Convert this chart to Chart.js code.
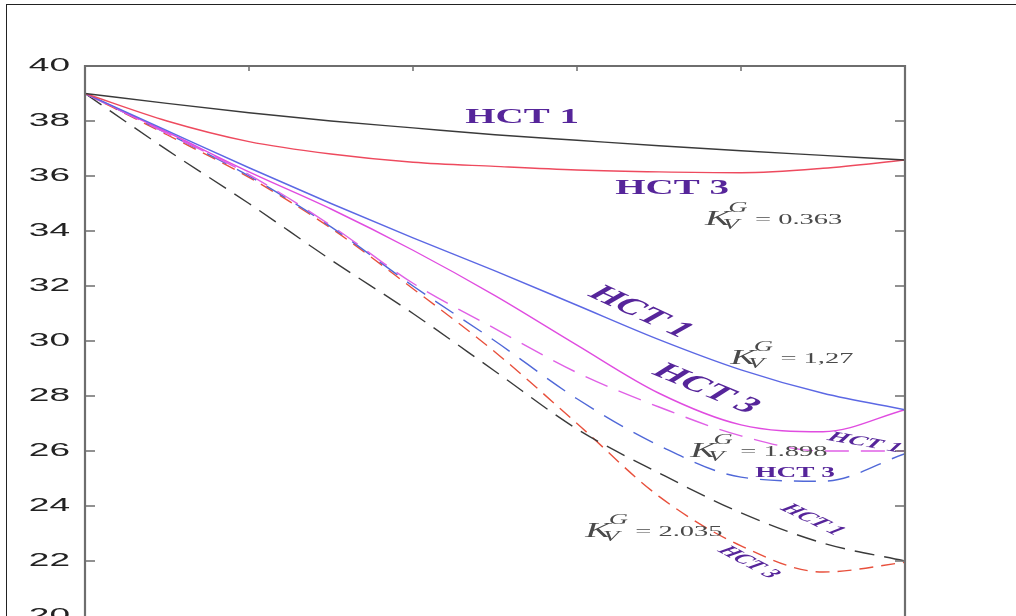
<!DOCTYPE html>
<html>
<head>
<meta charset="utf-8">
<script src="https://cdn.jsdelivr.net/npm/chart.js@4"></script>
<style>
  html, body { margin: 0; padding: 0; background: #fff; overflow: hidden; }
  #wrap { position: relative; width: 1016px; height: 616px; }
  #frame { position: absolute; left: 6px; top: 4px; right: 0; bottom: 0;
           border-top: 1.5px solid #222; border-left: 1.5px solid #222; pointer-events: none; }
</style>
</head>
<body>
<div id="wrap">
  <canvas id="chart" width="1016" height="616"></canvas>
  <div id="frame"></div>
</div>
<script>
// relative position along the (unlabelled) x axis
const xs = [0, 0.1, 0.2, 0.3, 0.4, 0.5, 0.6, 0.7, 0.8, 0.9, 1.0];

// K = 0.363
const blackSolid = [39, 38.64, 38.3, 38.0, 37.75, 37.5, 37.3, 37.1, 36.92, 36.75, 36.58];
const redSolid   = [39, 38.0, 37.25, 36.8, 36.5, 36.35, 36.22, 36.15, 36.12, 36.28, 36.58];
// K = 1,27
const blueSolid    = [39, 37.65, 36.3, 35.0, 33.75, 32.55, 31.3, 30.05, 28.95, 28.1, 27.5];
const magentaSolid = [39, 37.6, 36.15, 34.8, 33.3, 31.65, 29.85, 28.1, 26.95, 26.7, 27.5];
// K = 1.898
const magentaDashed = [39, 37.55, 36.05, 34.2, 32.1, 30.45, 28.85, 27.6, 26.55, 26.0, 26.0];
const blueDashed    = [39, 37.55, 36.0, 34.15, 32.0, 30.0, 27.9, 26.2, 25.05, 24.9, 25.9];
// K = 2.035
const blackDashed = [39, 36.95, 35.0, 32.95, 31.0, 28.9, 26.8, 25.2, 23.75, 22.65, 22.0];
const redDashed   = [39, 37.5, 35.95, 34.1, 31.9, 29.6, 27.0, 24.35, 22.55, 21.6, 21.95];

const yMin = 20, yMax = 40, yStep = 2;
const topTicks = [0.2, 0.4, 0.6, 0.8];

// curve names and K values written on the plot
const curveNames = ["HCT 1", "HCT 3", "HCT 1", "HCT 3", "HCT 1", "HCT 3", "HCT 1", "HCT 3"];
const kValues = ["0.363", "1,27", "1.898", "2.035"];

// the whole original figure is stretched sideways, so text is too
const stretch = 1.95;

const nameSpots = [
  { x: 0.533, y: 38.1, rot: 0, size: 20, italic: false },
  { x: 0.716, y: 35.55, rot: 0, size: 20, italic: false },
  { x: 0.677, y: 31.05, rot: 42, size: 22, italic: false },
  { x: 0.757, y: 28.25, rot: 39, size: 22, italic: false },
  { x: 0.951, y: 26.3, rot: 19, size: 14, italic: true },
  { x: 0.866, y: 25.2, rot: 0, size: 14, italic: false },
  { x: 0.887, y: 23.5, rot: 43, size: 14, italic: true },
  { x: 0.809, y: 21.95, rot: 46, size: 14, italic: true }
];
const kSpots = [
  { x: 0.756, y: 34.45 },
  { x: 0.787, y: 29.4 },
  { x: 0.738, y: 26.0 },
  { x: 0.61, y: 23.1 }
];

function pts(ys) {
  return xs.map((x, i) => ({ x: x, y: ys[i] }));
}

function line(ys, color, dash, width) {
  return {
    data: pts(ys),
    borderColor: color,
    borderWidth: width || 1.4,
    borderDash: dash || [],
    pointRadius: 0,
    fill: false,
    cubicInterpolationMode: "monotone"
  };
}

const framePlugin = {
  id: "frame",
  afterDatasetsDraw(chart) {
    const { ctx, chartArea: a, scales } = chart;
    ctx.save();
    ctx.strokeStyle = "#6e6e6e";
    ctx.lineWidth = 2.2;
    ctx.beginPath();
    ctx.moveTo(a.left, a.bottom);
    ctx.lineTo(a.left, a.top);
    ctx.lineTo(a.right, a.top);
    ctx.lineTo(a.right, a.bottom);
    ctx.stroke();

    ctx.lineWidth = 1.5;
    ctx.beginPath();
    for (let v = yMin + yStep; v < yMax; v += yStep) {
      const py = scales.y.getPixelForValue(v);
      ctx.moveTo(a.left, py); ctx.lineTo(a.left + 10, py);
      ctx.moveTo(a.right - 10, py); ctx.lineTo(a.right, py);
    }
    topTicks.forEach(t => {
      const px = scales.x.getPixelForValue(t);
      ctx.moveTo(px, a.top); ctx.lineTo(px, a.top + 5);
    });
    ctx.stroke();

    // y tick labels, wide like the source
    ctx.fillStyle = "#222";
    ctx.textAlign = "right";
    ctx.textBaseline = "middle";
    ctx.font = "19px 'Liberation Sans', Arial, sans-serif";
    for (let v = yMin; v <= yMax; v += yStep) {
      const py = scales.y.getPixelForValue(v);
      ctx.save();
      ctx.translate(a.left - 15, py);
      ctx.scale(stretch, 1);
      ctx.fillText(String(v), 0, 0);
      ctx.restore();
    }

    // curve names
    ctx.fillStyle = "#56259a";
    ctx.textAlign = "center";
    ctx.textBaseline = "middle";
    curveNames.forEach((name, i) => {
      const s = nameSpots[i];
      ctx.save();
      ctx.translate(scales.x.getPixelForValue(s.x), scales.y.getPixelForValue(s.y));
      ctx.scale(stretch, 1);
      ctx.rotate(s.rot * Math.PI / 180);
      ctx.font = (s.italic ? "italic " : "") + "bold " + s.size + "px 'Liberation Serif', serif";
      ctx.fillText(name, 0, 0);
      ctx.restore();
    });

    // K_V^G = value
    ctx.fillStyle = "#4a4a4a";
    ctx.textAlign = "left";
    ctx.textBaseline = "alphabetic";
    kValues.forEach((val, i) => {
      const s = kSpots[i];
      ctx.save();
      ctx.translate(scales.x.getPixelForValue(s.x), scales.y.getPixelForValue(s.y) + 6);
      ctx.scale(1.9, 1);
      ctx.font = "italic 20px 'Liberation Serif', serif";
      ctx.fillText("K", 0, 0);
      const kw = ctx.measureText("K").width;
      ctx.font = "italic 14px 'Liberation Serif', serif";
      ctx.fillText("G", kw - 1, -13);
      ctx.fillText("V", kw - 4, 4);
      ctx.font = "15px 'Liberation Serif', serif";
      ctx.fillText("= " + val, kw + 13, -1);
      ctx.restore();
    });
    ctx.restore();
  }
};

new Chart(document.getElementById("chart"), {
  type: "line",
  data: {
    datasets: [
      line(blackSolid, "#3a3a3a"),
      line(redSolid, "#ee4a5e"),
      line(blueSolid, "#5c68e4"),
      line(magentaSolid, "#e04ce0"),
      line(magentaDashed, "#e060e6", [24, 12]),
      line(blueDashed, "#5068d8", [22, 12]),
      line(blackDashed, "#3a3a3a", [20, 10]),
      line(redDashed, "#e8503c", [14, 8])
    ]
  },
  options: {
    responsive: false,
    animation: false,
    devicePixelRatio: 1,
    layout: { padding: { top: 66, right: 111, bottom: 0, left: 0 } },
    plugins: { legend: { display: false }, tooltip: { enabled: false } },
    scales: {
      x: { type: "linear", min: 0, max: 1, display: false },
      y: {
        min: yMin, max: yMax,
        ticks: { display: false, stepSize: yStep },
        grid: { display: false, drawTicks: false },
        border: { display: false },
        afterFit(s) { s.width = 85; s.paddingTop = 0; s.paddingBottom = 0; }
      }
    }
  },
  plugins: [framePlugin]
});
</script>
</body>
</html>
